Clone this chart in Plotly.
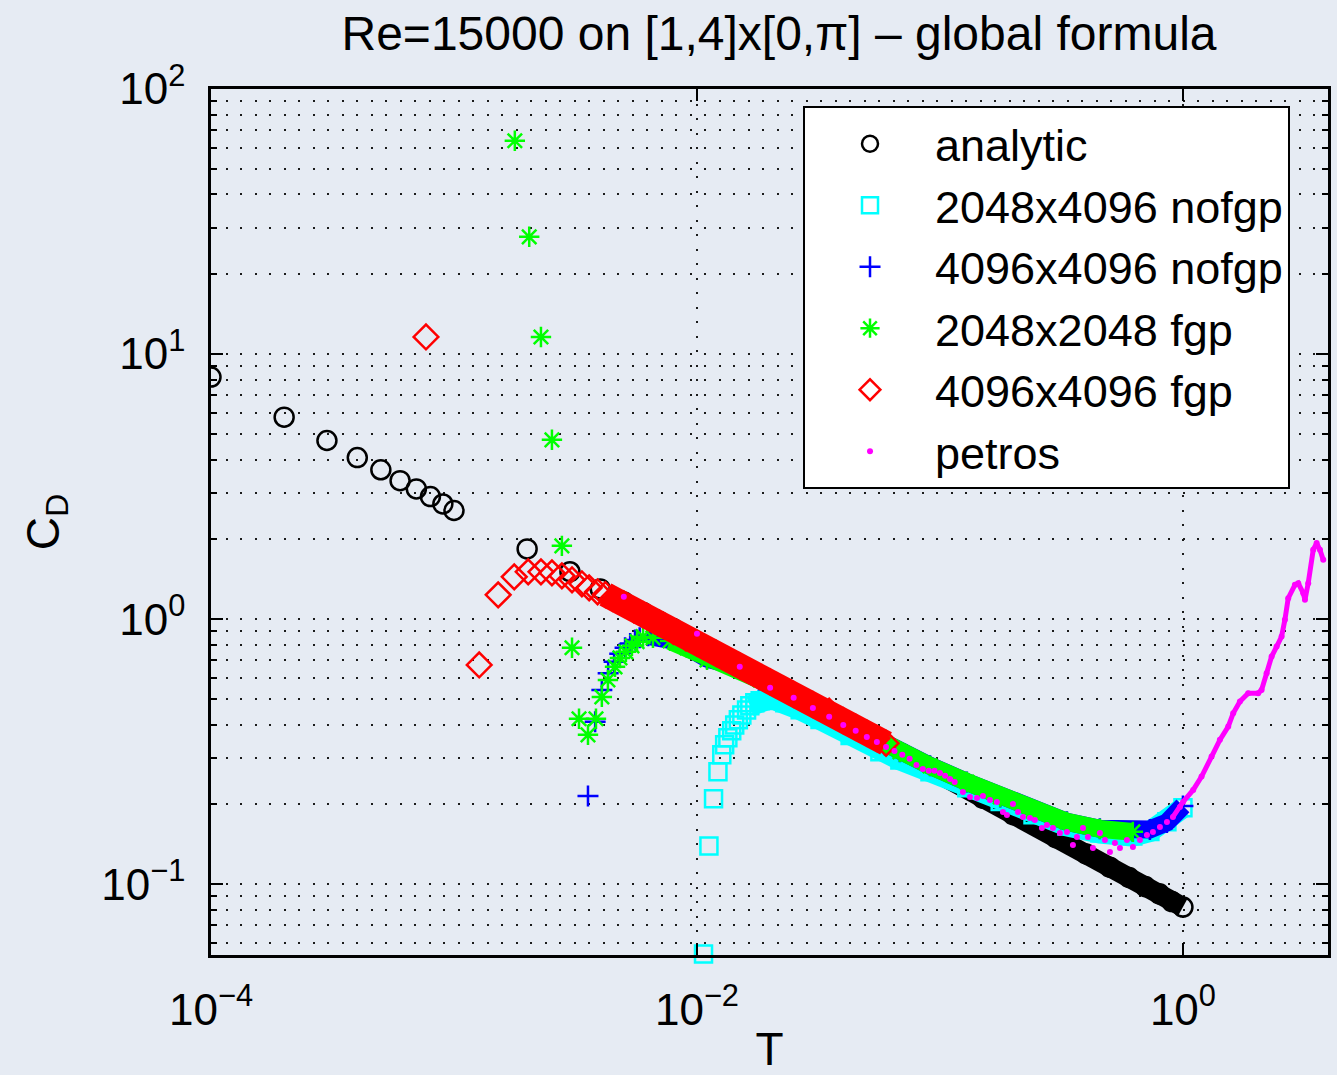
import plotly.graph_objects as go

FONT = "Liberation Sans, Arial, Helvetica, sans-serif"

title_text = "Re=15000 on [1,4]x[0,π] – global formula"
x_title = "T"
y_title = "C<sub>D</sub>"
x_tickvals = [1e-4, 1e-2, 1e0]
x_ticktext = ["10<sup>−4</sup>", "10<sup>−2</sup>", "10<sup>0</sup>"]
y_tickvals = [1e-1, 1e0, 1e1, 1e2]
y_ticktext = ["10<sup>−1</sup>", "10<sup>0</sup>", "10<sup>1</sup>", "10<sup>2</sup>"]

names = ["analytic", "2048x4096 nofgp", "4096x4096 nofgp", "2048x2048 fgp", "4096x4096 fgp", "petros"]

# analytic
t_analytic = [1e-4, 2e-4, 3e-4, 4e-4, 5e-4, 6e-4, 7e-4, 8e-4, 9e-4, 1e-3, 2e-3, 3e-3, 4e-3, 5e-3,
              6e-3, 7e-3, 8e-3, 9e-3, 0.01, 0.015, 0.02, 0.03, 0.04, 0.05, 0.07, 0.1, 0.15, 0.2,
              0.3, 0.4, 0.5, 0.6, 0.7, 0.8, 0.9, 1.0]
cd_analytic = [8.19, 5.78, 4.72, 4.07, 3.66, 3.33, 3.10, 2.90, 2.72, 2.57, 1.84, 1.51, 1.30, 1.16,
               1.06, 0.98, 0.92, 0.86, 0.82, 0.67, 0.58, 0.473, 0.41, 0.366, 0.31, 0.259, 0.211, 0.183,
               0.150, 0.130, 0.116, 0.106, 0.098, 0.092, 0.086, 0.082]

# 2048x4096 nofgp
t_cyan = [0.01064, 0.0112, 0.0117, 0.0122, 0.01265, 0.0130, 0.0134, 0.0139, 0.0143, 0.0148, 0.0153,
          0.0160, 0.0165, 0.0173, 0.0182, 0.0194, 0.0209, 0.0230, 0.0266, 0.0321, 0.0427, 0.0566,
          0.0684, 0.091, 0.129, 0.177, 0.2415, 0.333, 0.455, 0.622, 0.731, 0.859, 1.0]
cd_cyan = [0.0545, 0.1395, 0.210, 0.2655, 0.308, 0.336, 0.357, 0.379, 0.399, 0.417, 0.435,
           0.454, 0.471, 0.4835, 0.492, 0.496, 0.496, 0.4835, 0.455, 0.418, 0.364, 0.316,
           0.2945, 0.2655, 0.231, 0.205, 0.183, 0.166, 0.156, 0.152, 0.158, 0.172, 0.1945]

# 4096x4096 nofgp
t_blue = [3.56e-3, 3.81e-3, 4.06e-3, 4.31e-3, 4.56e-3, 4.81e-3, 5.06e-3, 5.31e-3, 5.56e-3, 5.81e-3,
          6.3e-3, 7.0e-3, 8.0e-3, 9.1e-3, 0.011, 0.0137, 0.018, 0.0266, 0.0427, 0.0594, 0.0684,
          0.091, 0.129, 0.177, 0.2415, 0.333, 0.455, 0.622, 0.731, 0.859, 1.0]
cd_blue = [0.215, 0.41, 0.54, 0.625, 0.69, 0.74, 0.78, 0.81, 0.835, 0.85,
           0.865, 0.86, 0.83, 0.785, 0.71, 0.672, 0.59, 0.496, 0.392, 0.3355, 0.316,
           0.28, 0.243, 0.2135, 0.189, 0.172, 0.162, 0.158, 0.161, 0.171, 0.1975]

# 2048x2048 fgp
t_green = [1.78e-3, 2.04e-3, 2.28e-3, 2.53e-3, 2.78e-3, 3.06e-3, 3.27e-3, 3.56e-3, 3.84e-3, 4.06e-3,
           4.3e-3, 4.6e-3, 4.82e-3, 5.1e-3, 5.4e-3, 5.67e-3, 6.0e-3, 6.59e-3, 7.75e-3, 9.1e-3,
           0.011, 0.0137, 0.0182, 0.0266, 0.0427, 0.0594, 0.0684, 0.091, 0.129, 0.177, 0.2415,
           0.333, 0.455, 0.622]
cd_green = [63.8, 27.7, 11.6, 4.75, 1.89, 0.780, 0.421, 0.366, 0.421, 0.509,
            0.590, 0.661, 0.714, 0.753, 0.793, 0.822, 0.859, 0.850, 0.828, 0.779,
            0.702, 0.672, 0.590, 0.496, 0.392, 0.3355, 0.316, 0.2795, 0.243, 0.2135, 0.189,
            0.1718, 0.1617, 0.1576]

# 4096x4096 fgp
t_red = [7.67e-4, 1.27e-3, 1.52e-3, 1.77e-3, 2.02e-3, 2.28e-3, 2.53e-3, 2.78e-3, 3.06e-3, 3.36e-3,
         3.6e-3, 3.9e-3, 4.2e-3, 4.5e-3, 5e-3, 5.5e-3, 6e-3, 7e-3, 8e-3, 9e-3, 0.01, 0.012,
         0.015, 0.02, 0.025, 0.03, 0.035, 0.04, 0.045, 0.05, 0.055, 0.06]
cd_red = [11.6, 0.672, 1.235, 1.444, 1.508, 1.508, 1.495, 1.457, 1.407, 1.359,
          1.313, 1.268, 1.238, 1.197, 1.142, 1.085, 1.04, 0.966, 0.899, 0.849, 0.812, 0.743,
          0.667, 0.580, 0.520, 0.4765, 0.4498, 0.4143, 0.3916, 0.3717, 0.355, 0.340]

# petros
t_petros = [0.005, 0.01, 0.015, 0.02, 0.025, 0.03, 0.035, 0.04, 0.045, 0.05, 0.055, 0.06, 0.065,
            0.07, 0.075, 0.08, 0.085, 0.09, 0.095, 0.1, 0.105, 0.11, 0.115,
            0.1243, 0.1329, 0.1420, 0.1503, 0.1606, 0.1716, 0.1816, 0.1886, 0.1997, 0.2094,
            0.2196, 0.2346, 0.2459, 0.2628, 0.2756, 0.2917, 0.3117, 0.3332, 0.3526, 0.3663,
            0.3877, 0.4064, 0.4261, 0.4553, 0.4775, 0.5007, 0.5250, 0.5505, 0.5881, 0.6225,
            0.6653, 0.7110, 0.7525, 0.8041, 0.8593, 0.9095, 0.9721, 1.0025, 1.102, 1.193,
            1.312, 1.419, 1.536, 1.610, 1.716, 1.856, 2.040, 2.107, 2.210, 2.317, 2.430,
            2.547, 2.628, 2.712, 2.890, 2.982, 3.127, 3.178, 3.278, 3.437, 3.550, 3.663, 3.780]
cd_petros = [1.214, 0.880, 0.661, 0.5506, 0.5047, 0.4626, 0.428, 0.399, 0.379, 0.3595, 0.3443,
             0.3297, 0.3184, 0.3076, 0.2972, 0.2818, 0.2723, 0.2677, 0.2677, 0.263, 0.2564,
             0.2495, 0.2432,
             0.2230, 0.2135, 0.2116, 0.2153, 0.2080, 0.2044, 0.1874, 0.1825, 0.2009, 0.1874,
             0.1794, 0.1779, 0.1748, 0.1631, 0.1674, 0.1631, 0.1561, 0.1575, 0.1407, 0.1508,
             0.1631, 0.1508, 0.1371, 0.1561, 0.1469, 0.1323, 0.1431, 0.1371, 0.1469, 0.1382,
             0.1469, 0.1535, 0.1575, 0.1645, 0.1718, 0.1794, 0.1957, 0.2049, 0.2269, 0.2547,
             0.3031, 0.3504, 0.3932, 0.4417, 0.4887, 0.5256, 0.5256, 0.5409, 0.6254, 0.7228,
             0.7881, 0.8598, 0.994, 1.200, 1.347, 1.367, 1.253, 1.183, 1.367, 1.826, 1.936,
             1.826, 1.674]


def band(t, c, tmin, color, width):
    tt = [a for a in t if a >= tmin]
    cc = [b for a, b in zip(t, c) if a >= tmin]
    return go.Scatter(x=tt, y=cc, mode="lines", line=dict(color=color, width=width),
                      showlegend=False, hoverinfo="skip")


def pts(t, c, name, symbol, color, size, lw=2.5, clip=True):
    return go.Scatter(x=t, y=c, mode="markers", name=name, cliponaxis=clip,
                      marker=dict(symbol=symbol, size=size, color=color,
                                  line=dict(color=color, width=lw)))


fig = go.Figure()
fig.add_trace(band(t_analytic, cd_analytic, 0.01, "black", 20))
fig.add_trace(pts(t_analytic, cd_analytic, names[0], "circle-open", "black", 19))
fig.add_trace(band(t_cyan, cd_cyan, 0.0165, "#00ffff", 21))
fig.add_trace(pts(t_cyan, cd_cyan, names[1], "square-open", "#00ffff", 17, clip=False))
fig.add_trace(band(t_blue, cd_blue, 0.0063, "#0000ff", 18))
fig.add_trace(pts(t_blue, cd_blue, names[2], "cross-thin-open", "#0000ff", 15))
fig.add_trace(band(t_green, cd_green, 0.0066, "#00ff00", 18))
fig.add_trace(pts(t_green, cd_green, names[3], "asterisk-open", "#00ff00", 17))
fig.add_trace(band(t_red, cd_red, 0.0042, "#ff0000", 25))
fig.add_trace(pts(t_red, cd_red, names[4], "diamond-open", "#ff0000", 19))
fig.add_trace(band(t_petros, cd_petros, 0.9, "#ff00ff", 5))
fig.add_trace(go.Scatter(x=t_petros, y=cd_petros, mode="markers", name=names[5],
                         marker=dict(symbol="circle", size=6, color="#ff00ff")))

grid = dict(showgrid=True, gridcolor="#1a1a1a", gridwidth=2, griddash="2px,12.5px")
axis_common = dict(showline=True, linecolor="black", linewidth=2.5, mirror="ticks",
                   ticks="inside", ticklen=12, tickwidth=2, tickcolor="black", automargin=False,
                   zeroline=False, tickfont=dict(family=FONT, size=44, color="black"), **grid)

minor_vals = [m * 10.0 ** e for e in (-2, -1, 0, 1) for m in range(2, 10)]

fig.update_xaxes(type="log", range=[-4, 0.597], tickmode="array", tickvals=x_tickvals,
                 ticktext=x_ticktext, ticklabelstandoff=14,
                 title=dict(text=x_title, font=dict(family=FONT, size=46, color="black"), standoff=16),
                 **axis_common)
fig.update_yaxes(type="log", range=[-1.267, 2], tickmode="array", tickvals=y_tickvals,
                 ticktext=y_ticktext, ticklabelstandoff=14,
                 minor=dict(tickmode="array", tickvals=minor_vals, ticks="inside", ticklen=6,
                            tickwidth=2, tickcolor="black", **grid),
                 title=dict(text=y_title, font=dict(family=FONT, size=46, color="black"), standoff=28),
                 **axis_common)

fig.update_layout(
    width=1337, height=1075,
    margin=dict(l=211, r=9, t=89, b=120, autoexpand=False),
    paper_bgcolor="#e6ebf3", plot_bgcolor="rgba(0,0,0,0)",
    font=dict(family=FONT, size=44, color="black"),
    title=dict(text=title_text, x=779 / 1337, xanchor="center", xref="container",
               y=1 - 33 / 1075, yanchor="middle", yref="container",
               font=dict(family=FONT, size=48, color="black")),
    legend=dict(x=0.53, y=0.9804, xanchor="left", yanchor="top", bgcolor="white",
                bordercolor="black", borderwidth=2, font=dict(family=FONT, size=45, color="black"),
                itemwidth=120, tracegroupgap=0),
    showlegend=True,
)

fig.write_html(
    "out.html",
    config={"displayModeBar": False},
    post_script="document.body.style.margin='0';document.body.style.overflow='hidden';"
                "document.body.style.background='#e6ebf3';",
)
